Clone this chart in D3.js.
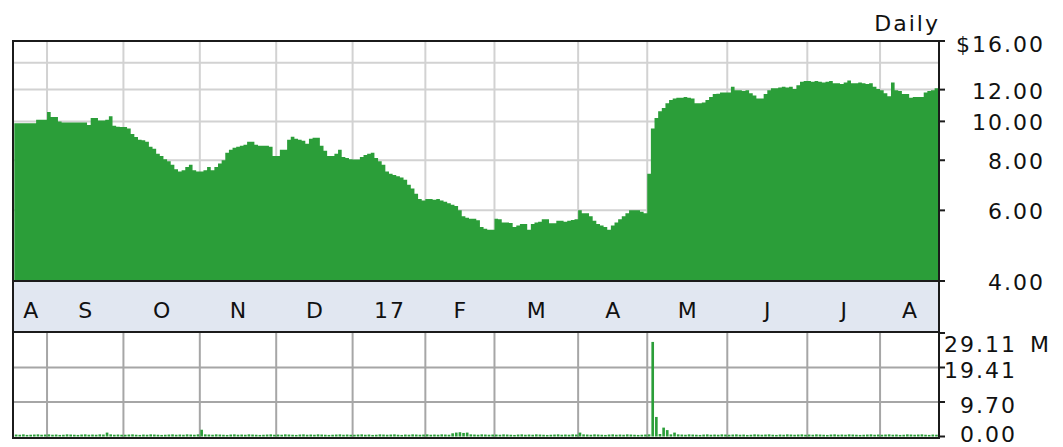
<!DOCTYPE html>
<html>
<head>
<meta charset="utf-8">
<script src="https://cdn.jsdelivr.net/npm/d3@7/dist/d3.min.js"></script>
<style>
html, body { margin: 0; padding: 0; background: #fff; }
svg { display: block; }
text { font-family: "DejaVu Sans", Verdana, sans-serif; font-size: 22px; fill: #111; letter-spacing: 2px; }
</style>
</head>
<body>
<svg id="chart" width="1063" height="447"></svg>
<script>
// Month bands along the bottom of the price panel, and how many trading days each holds
var monthLabels = ["A", "S", "O", "N", "D", "17", "F", "M", "A", "M", "J", "J", "A"];
var monthDays   = [9, 21, 21, 21, 21, 20, 19, 23, 19, 22, 22, 20, 17];

// Daily closes ($), one line per month, Aug 2016 -> Aug 2017
var closes = [
  9.9, 9.9, 9.9, 9.9, 9.9, 9.9, 10.1, 10.1, 10.1,
  10.55, 10.25, 10.25, 10.0, 9.93, 9.93, 9.93, 9.93, 9.93, 9.93, 9.93, 9.8, 10.2, 10.2, 10.05, 10.05, 10.1, 10.3, 9.75, 9.7, 9.68,
  9.68, 9.6, 9.3, 9.14, 9.0, 8.97, 8.9, 8.65, 8.55, 8.3, 8.2, 8.05, 7.95, 7.8, 7.6, 7.5, 7.55, 7.7, 7.8, 7.55, 7.5,
  7.5, 7.55, 7.7, 7.55, 7.7, 7.85, 8.0, 8.35, 8.5, 8.6, 8.65, 8.7, 8.75, 8.9, 8.9, 8.75, 8.7, 8.7, 8.7, 8.65, 8.2,
  8.2, 8.5, 8.5, 9.0, 9.15, 9.05, 9.0, 8.95, 8.8, 9.05, 9.1, 9.1, 8.7, 8.45, 8.2, 8.2, 8.3, 8.5, 8.15, 8.1, 8.05,
  8.03, 8.03, 8.15, 8.25, 8.3, 8.35, 8.1, 7.95, 7.8, 7.5, 7.4, 7.35, 7.3, 7.25, 7.15, 6.95, 6.8, 6.6, 6.4, 6.35,
  6.4, 6.4, 6.38, 6.4, 6.35, 6.3, 6.25, 6.2, 6.15, 6.0, 5.8, 5.75, 5.72, 5.72, 5.67, 5.45, 5.4, 5.37, 5.37,
  5.72, 5.7, 5.6, 5.6, 5.58, 5.45, 5.5, 5.55, 5.55, 5.37, 5.55, 5.6, 5.62, 5.7, 5.7, 5.57, 5.57, 5.65, 5.65, 5.62, 5.65, 5.68, 5.7,
  6.0, 5.9, 5.9, 5.8, 5.65, 5.55, 5.5, 5.45, 5.37, 5.5, 5.6, 5.7, 5.8, 5.9, 6.0, 6.0, 6.0, 5.95, 5.9,
  7.4, 9.6, 10.2, 10.6, 10.8, 11.1, 11.3, 11.4, 11.45, 11.45, 11.5, 11.45, 11.4, 11.1, 11.1, 11.15, 11.3, 11.5, 11.7, 11.72, 11.8, 11.8,
  11.8, 12.2, 11.95, 11.95, 11.9, 11.95, 11.75, 11.6, 11.4, 11.4, 11.7, 11.95, 12.1, 12.1, 12.15, 12.2, 12.15, 12.2, 12.05, 12.3, 12.55, 12.6,
  12.6, 12.55, 12.6, 12.55, 12.5, 12.55, 12.6, 12.45, 12.45, 12.4, 12.5, 12.65, 12.45, 12.45, 12.5, 12.45, 12.4, 12.45, 12.2, 12.05,
  11.95, 11.75, 11.55, 12.5, 11.95, 11.9, 11.7, 11.7, 11.45, 11.5, 11.5, 11.5, 11.8, 11.9, 11.95, 12.1, 12.1
];

// Daily volume (millions of shares), same layout as closes
var volumes = [
  .55, .5, .6, .45, .5, .55, .6, .5, .55,
  .6, .5, .55, .45, .5, .6, .55, .5, .45, .55, .6, .5, .55, .5, .6, .55, 1.1, .6, .5, .55, .5,
  .5, .55, .6, .5, .45, .55, .5, .6, .55, .5, .45, .5, .55, .6, .5, .55, .5, .6, .55, .5, .6,
  1.9, .6, .55, .5, .6, .55, .5, .45, .55, .6, .5, .55, .5, .6, .55, .5, .45, .5, .55, .6, .5,
  .55, .5, .6, .55, .5, .45, .55, .6, .5, .55, .5, .6, .55, .5, .45, .5, .55, .6, .5, .55, .5,
  .5, .55, .6, .5, .55, .45, .5, .6, .55, .5, .55, .6, .5, .45, .55, .5, .6, .55, .5, .55,
  .6, .5, .55, .5, .6, .55, .5, .9, 1.1, 1.2, 1.0, 1.1, .6, .55, .5, .6, .55, .5, .55,
  .55, .5, .6, .55, .5, .45, .55, .6, .5, .55, .5, .6, .55, .5, .45, .5, .55, .6, .5, .55, .5, .6, .55,
  1.1, .6, .55, .5, .6, .55, .5, .45, .55, .6, .5, .55, .5, .6, .55, .5, .45, .5, .55,
  .6, 26.6, 5.5, .7, 2.5, 1.8, .6, 1.1, .6, .55, .5, .6, .55, .5, .45, .55, .6, .5, .55, .5, .6, .55,
  .5, .55, .6, .5, .55, .45, .5, .6, .55, .5, .55, .6, .5, .45, .55, .5, .6, .55, .5, .55, .6, .5,
  .55, .5, .6, .55, .5, .45, .55, .6, .5, .55, .5, .6, .55, .5, .45, .5, .55, .6, .5, .55,
  .5, .55, .6, .5, .55, .45, .5, .6, .55, .5, .55, .6, .5, .45, .55, .5, .6
];

// Axis ticks
var priceTicks = [16, 12, 10, 8, 6, 4];
var priceGrid  = [14, 12, 10, 8, 6];
var volTicks   = [29.11, 19.41, 9.70, 0];
var volGrid    = [19.41, 9.70];

/* ---------------- layout ---------------- */
var frameL = 13, frameR = 939;
var priceTop = 41, priceBot = 281;
var volTop = 332, volBot = 438;
var green = "#2b9e39";

var svg = d3.select("#chart");
var nDays = closes.length;

var x = d3.scaleLinear().domain([0, nDays]).range([14.3, 941.9]);
var y = d3.scaleLog().domain([4, 16]).range([priceBot, 39.5]);
var v = d3.scaleLinear().domain([0, 29.11]).range([436.5, 333]);

// first trading-day index of each month
var monthStart = [0];
monthDays.forEach(function(n, i) { monthStart.push(monthStart[i] + n); });

svg.append("clipPath").attr("id", "clipPrice")
  .append("rect").attr("x", frameL).attr("y", priceTop).attr("width", frameR - frameL).attr("height", priceBot - priceTop);
svg.append("clipPath").attr("id", "clipVol")
  .append("rect").attr("x", frameL).attr("y", volTop).attr("width", frameR - frameL).attr("height", volBot - volTop);

/* ---------------- price panel ---------------- */
var gP = svg.append("g").attr("clip-path", "url(#clipPrice)");

gP.selectAll("line.hgrid").data(priceGrid).enter().append("line")
  .attr("x1", frameL).attr("x2", frameR)
  .attr("y1", function(d) { return y(d); }).attr("y2", function(d) { return y(d); })
  .attr("stroke", "#d2d2d2").attr("stroke-width", 2);

gP.selectAll("line.vgrid").data(monthStart.slice(1, monthDays.length)).enter().append("line")
  .attr("x1", function(d) { return x(d); }).attr("x2", function(d) { return x(d); })
  .attr("y1", priceTop).attr("y2", priceBot)
  .attr("stroke", "#d2d2d2").attr("stroke-width", 2);

var pts = closes.map(function(c, i) { return { i: i, c: c }; });
pts.push({ i: nDays, c: closes[nDays - 1] });

gP.append("path").datum(pts)
  .attr("fill", green)
  .attr("d", d3.area()
    .x(function(d) { return x(d.i); })
    .y0(priceBot)
    .y1(function(d) { return y(d.c); })
    .curve(d3.curveStepAfter));

/* ---------------- month band ---------------- */
svg.append("rect").attr("x", frameL).attr("y", priceBot).attr("width", frameR - frameL).attr("height", volTop - priceBot)
  .attr("fill", "#e1e7f1");

svg.selectAll("text.month").data(monthLabels).enter().append("text")
  .attr("class", "month")
  .attr("text-anchor", "middle")
  .attr("x", function(d, i) {
    var a = Math.max(x(monthStart[i]), frameL), b = Math.min(x(monthStart[i + 1]), frameR);
    return (a + b) / 2 + 1;
  })
  .attr("y", 318)
  .text(function(d) { return d; });

/* ---------------- volume panel ---------------- */
var gV = svg.append("g").attr("clip-path", "url(#clipVol)");

gV.selectAll("line.hgrid").data(volGrid).enter().append("line")
  .attr("x1", frameL).attr("x2", frameR)
  .attr("y1", function(d) { return v(d); }).attr("y2", function(d) { return v(d); })
  .attr("stroke", "#a6a6a6").attr("stroke-width", 2);

gV.selectAll("line.vgrid").data(monthStart.slice(1, monthDays.length)).enter().append("line")
  .attr("x1", function(d) { return x(d); }).attr("x2", function(d) { return x(d); })
  .attr("y1", volTop).attr("y2", volBot)
  .attr("stroke", "#a6a6a6").attr("stroke-width", 2);

var step = x(1) - x(0);
gV.selectAll("rect.vol").data(volumes).enter().append("rect")
  .attr("x", function(d, i) { return x(i) + 0.5; })
  .attr("width", step - 1)
  .attr("y", function(d) { return v(d); })
  .attr("height", function(d) { return v(0) - v(d); })
  .attr("fill", green);

/* ---------------- frame ---------------- */
var frameColor = "#1b1b1b";
[[frameL, priceTop, frameR, priceTop], [frameL, priceBot, frameR, priceBot],
 [frameL, volTop, frameR, volTop], [frameL, volBot, frameR, volBot],
 [frameL, priceTop - 1, frameL, volBot + 1], [frameR, priceTop - 1, frameR, volBot + 1]]
  .forEach(function(s) {
    svg.append("line").attr("x1", s[0]).attr("y1", s[1]).attr("x2", s[2]).attr("y2", s[3])
      .attr("stroke", frameColor).attr("stroke-width", 2);
  });

/* ---------------- right axis ---------------- */
svg.selectAll("line.ptick").data(priceTicks).enter().append("line")
  .attr("x1", frameR).attr("x2", frameR + 6)
  .attr("y1", function(d) { return Math.max(y(d), priceTop); })
  .attr("y2", function(d) { return Math.max(y(d), priceTop); })
  .attr("stroke", frameColor).attr("stroke-width", 2);

svg.selectAll("text.plabel").data(priceTicks).enter().append("text")
  .attr("text-anchor", "end")
  .attr("x", 1045)
  .attr("y", function(d) { return Math.max(y(d) + 9, 52); })
  .text(function(d, i) { return (i === 0 ? "$" : "") + d3.format(".2f")(d); });

svg.selectAll("line.vtick").data(volTicks).enter().append("line")
  .attr("x1", frameR).attr("x2", frameR + 6)
  .attr("y1", function(d) { return v(d); }).attr("y2", function(d) { return v(d); })
  .attr("stroke", frameColor).attr("stroke-width", 2);

svg.selectAll("text.vlabel").data(volTicks).enter().append("text")
  .attr("text-anchor", "end")
  .attr("x", 1017)
  .attr("y", function(d) { return Math.min(Math.max(v(d) + 11, 352), 442); })
  .text(function(d) { return d3.format(".2f")(d); });

svg.append("text").attr("x", 1030).attr("y", 352).text("M");

svg.append("text").attr("text-anchor", "end").attr("x", 940).attr("y", 31).text("Daily");
</script>
</body>
</html>
